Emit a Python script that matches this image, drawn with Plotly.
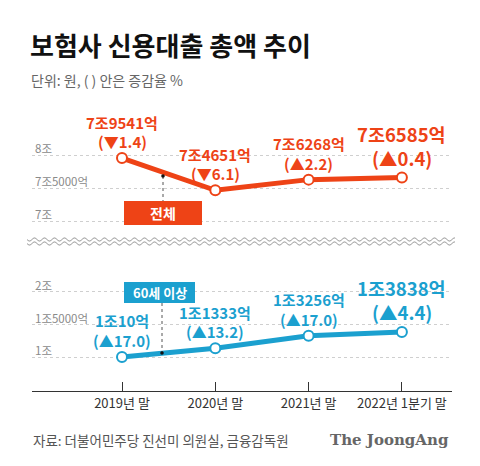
import plotly.graph_objects as go
import math

W, H = 480, 466

categories = ["2019년 말", "2020년 말", "2021년 말", "2022년 1분기 말"]
total_values = [7.9541, 7.4651, 7.6268, 7.6585]          # 조 원
total_labels = ["7조9541억", "7조4651억", "7조6268억", "7조6585억"]
total_changes = ["(▼1.4)", "(▼6.1)", "(▲2.2)", "(▲0.4)"]
senior_values = [1.0010, 1.1333, 1.3256, 1.3838]         # 조 원
senior_labels = ["1조10억", "1조1333억", "1조3256억", "1조3838억"]
senior_changes = ["(▲17.0)", "(▲13.2)", "(▲17.0)", "(▲4.4)"]
top_ticks = [7, 7.5, 8]
top_ticktext = ["7조", "7조5000억", "8조"]
bot_ticks = [1, 1.5, 2]
bot_ticktext = ["1조", "1조5000억", "2조"]

RED = "#ee4316"
BLUE = "#1ba0cf"
FONT = "Noto Sans CJK KR"

def fx(px):
    return px / W

def fy(px):
    return 1 - px / H

xs = list(range(len(categories)))
xrange_ = [-0.9646, 3.537]

fig = go.Figure()
fig.add_trace(go.Scatter(x=xs, y=total_values, mode="lines+markers",
                         line=dict(color=RED, width=5),
                         marker=dict(size=10, color="white", line=dict(color=RED, width=2)),
                         xaxis="x", yaxis="y", hoverinfo="skip"))
fig.add_trace(go.Scatter(x=xs, y=senior_values, mode="lines+markers",
                         line=dict(color=BLUE, width=5),
                         marker=dict(size=10, color="white", line=dict(color=BLUE, width=2)),
                         xaxis="x2", yaxis="y2", hoverinfo="skip"))

grid = dict(showgrid=True, gridcolor="#cfcfcf", griddash="dot", gridwidth=1,
            zeroline=False, showline=False, ticks="", ticklabelposition="inside",
            tickfont=dict(family=FONT, size=11.5, color="#8a8a8a"), ticklabelshift=-6,
            ticklabelstandoff=0)

fig.update_layout(
    width=W, height=H, margin=dict(l=0, r=0, t=0, b=0),
    paper_bgcolor="white", plot_bgcolor="white", showlegend=False,
    xaxis=dict(domain=[fx(32), fx(452)], range=xrange_, anchor="y",
               showticklabels=False, showgrid=False, zeroline=False, showline=False),
    yaxis=dict(domain=[fy(230), fy(125)], range=[6.8636, 8.4545], anchor="x",
               tickvals=top_ticks, ticktext=top_ticktext, **grid),
    xaxis2=dict(domain=[fx(32), fx(452)], range=xrange_, anchor="y2",
                tickvals=xs, ticktext=categories, showgrid=False, zeroline=False,
                showline=True, linecolor="#333", linewidth=1.2,
                ticks="inside", ticklen=9, tickcolor="#333", tickwidth=1,
                tickfont=dict(family=FONT, size=13, color="#333")),
    yaxis2=dict(domain=[fy(391), fy(270)], range=[0.477, 2.338], anchor="x2",
                tickvals=bot_ticks, ticktext=bot_ticktext, **grid),
)

ann = []
# Title / subtitle
ann.append(dict(text="<b>보험사 신용대출 총액 추이</b>", x=fx(28), y=fy(44), xref="paper", yref="paper",
                xanchor="left", yanchor="middle", showarrow=False,
                font=dict(family=FONT, size=26, color="#111")))
ann.append(dict(text="단위: 원, ( ) 안은 증감율 %", x=fx(29), y=fy(80), xref="paper", yref="paper",
                xanchor="left", yanchor="middle", showarrow=False,
                font=dict(family=FONT, size=14, color="#666")))
# Data labels (value line + change line)
for i in xs:
    big = i == len(xs) - 1
    sz = 18.5 if big else 15
    s1, s2 = (44, 20) if big else (36, 16.5)
    for xa, ya, vals, labs, chg, col in [("x", "y", total_values, total_labels, total_changes, RED),
                                         ("x2", "y2", senior_values, senior_labels, senior_changes, BLUE)]:
        ann.append(dict(text=f"<b>{labs[i]}</b>", x=i, y=vals[i], xref=xa, yref=ya,
                        xanchor="center", yanchor="middle", yshift=s1, showarrow=False,
                        font=dict(family=FONT, size=sz, color=col)))
        ann.append(dict(text=f"<b>{chg[i]}</b>", x=i, y=vals[i], xref=xa, yref=ya,
                        xanchor="center", yanchor="middle", yshift=s2, showarrow=False,
                        font=dict(family=FONT, size=sz, color=col)))
# Legend tags
ann.append(dict(text="<b>전체</b>", x=fx(163), y=fy(213), xref="paper", yref="paper",
                xanchor="center", yanchor="middle",
                showarrow=False, font=dict(family=FONT, size=14, color="white")))
ann.append(dict(text="<b>60세 이상</b>", x=fx(159.5), y=fy(292.5), xref="paper", yref="paper",
                xanchor="center", yanchor="middle",
                showarrow=False, font=dict(family=FONT, size=13, color="white")))
# Footer
ann.append(dict(text="자료: 더불어민주당 진선미 의원실, 금융감독원", x=fx(31), y=fy(440), xref="paper", yref="paper",
                xanchor="left", yanchor="middle", showarrow=False,
                font=dict(family=FONT, size=13.5, color="#555")))
ann.append(dict(text="<b>The JoongAng</b>", x=fx(451), y=fy(440), xref="paper", yref="paper",
                xanchor="right", yanchor="middle", showarrow=False,
                font=dict(family="DejaVu Serif", size=15, color="#666")))
fig.update_layout(annotations=ann)

shapes = []
shapes.append(dict(type="rect", xref="paper", yref="paper", x0=fx(124), x1=fx(202), y0=fy(225), y1=fy(201),
                   fillcolor=RED, line=dict(width=0), layer="above"))
shapes.append(dict(type="rect", xref="paper", yref="paper", x0=fx(124), x1=fx(195), y0=fy(303), y1=fy(282),
                   fillcolor=BLUE, line=dict(width=0), layer="above"))
shapes.append(dict(type="line", xref="paper", yref="paper", x0=fx(163), x1=fx(163), y0=fy(176), y1=fy(201),
                   line=dict(color="#555", width=1, dash="dot")))
shapes.append(dict(type="line", xref="paper", yref="paper", x0=fx(162), x1=fx(162), y0=fy(303), y1=fy(353),
                   line=dict(color="#555", width=1, dash="dot")))
for (cx, cy) in [(163, 176), (162, 353)]:
    shapes.append(dict(type="circle", xref="paper", yref="paper", x0=fx(cx - 1.8), x1=fx(cx + 1.8),
                       y0=fy(cy + 1.8), y1=fy(cy - 1.8), fillcolor="#111", line=dict(width=0)))
# break wave (decorative)
for base in [239.5, 243.5]:
    pts = []
    x = 27.0
    while x <= 455:
        yy = base + 1.6 * math.sin((x - 27) / 10.0 * 2 * math.pi)
        pts.append(f"{fx(x):.5f},{fy(yy):.5f}")
        x += 1.0
    shapes.append(dict(type="path", xref="paper", yref="paper", path="M" + " L".join(pts),
                       line=dict(color="#9a9a9a", width=1)))
fig.update_layout(shapes=shapes)

fig.write_html("out.html", config={"displayModeBar": False},
               post_script="document.body.style.margin='0';document.body.style.padding='0';")
